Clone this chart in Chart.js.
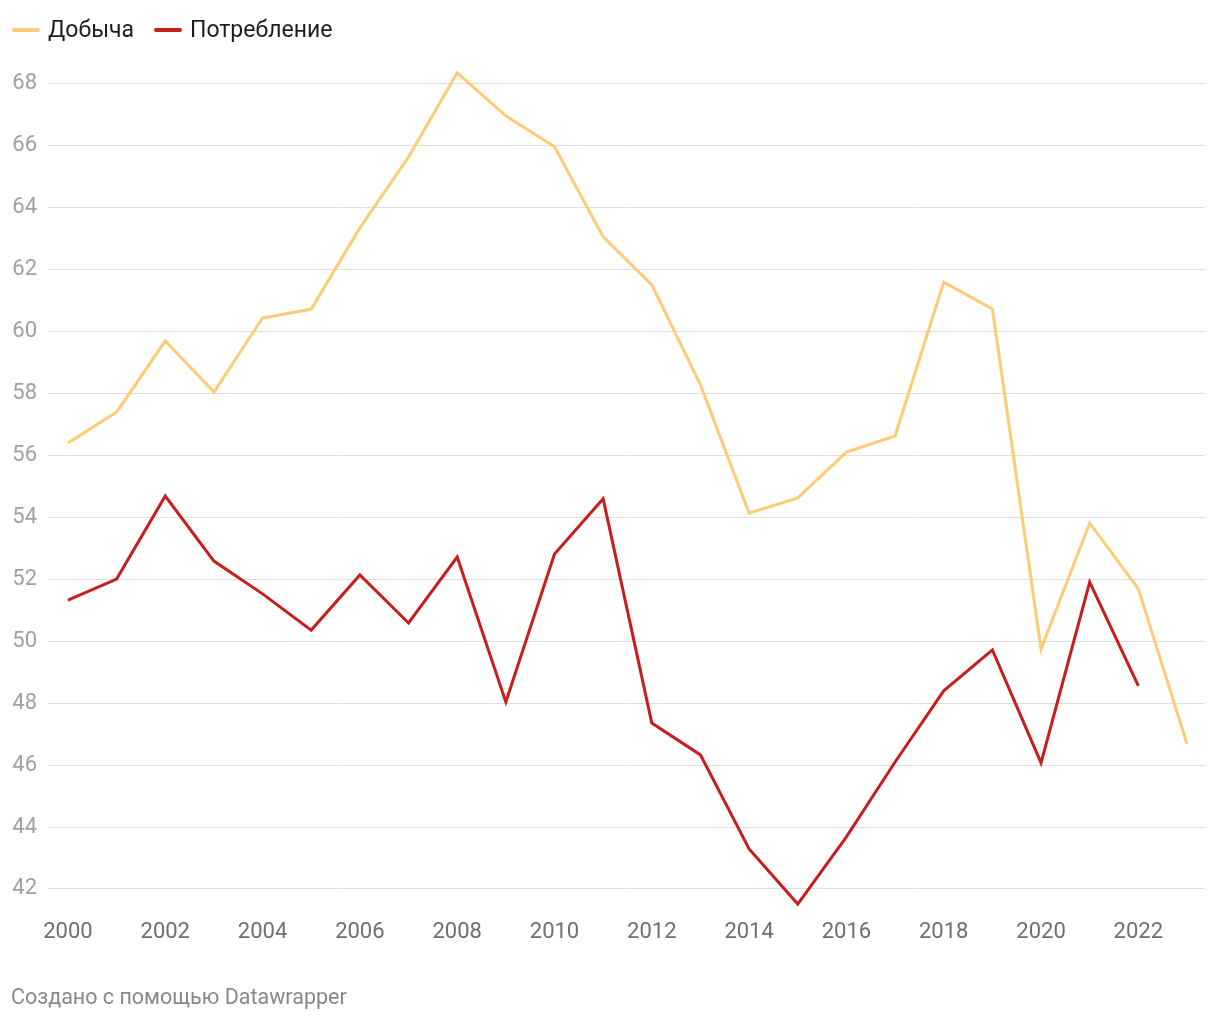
<!DOCTYPE html>
<html>
<head>
<meta charset="utf-8">
<script src="https://cdn.jsdelivr.net/npm/chart.js@4.4.1/dist/chart.umd.min.js"></script>
<style>
  body { margin: 0; background: #fff; font-family: Roboto, sans-serif; }
  #wrap { position: relative; width: 1220px; height: 1020px; }
  #chart { position: absolute; left: 0; top: 0; }
  .legend { position: absolute; top: 16px; left: 12px; display: flex; font-size: 23px; color: #1d1d1d; }
  .legend span { display: flex; align-items: center; margin-right: 20px; }
  .legend i { display: inline-block; width: 28px; height: 4px; border-radius: 2px; margin-right: 8px; }
  .credit { position: absolute; left: 11px; top: 984px; font-size: 21.5px; color: #888; }
</style>
</head>
<body>
<div id="wrap">
  <canvas id="chart" width="1220" height="1020"></canvas>
  <div class="legend">
    <span><i style="background:#fdca76"></i>Добыча</span>
    <span><i style="background:#c71e1d"></i>Потребление</span>
  </div>
  <div class="credit">Создано с помощью Datawrapper</div>
</div>
<script>
// Data
const years = [2000, 2001, 2002, 2003, 2004, 2005, 2006, 2007, 2008, 2009, 2010, 2011,
               2012, 2013, 2014, 2015, 2016, 2017, 2018, 2019, 2020, 2021, 2022, 2023];
const production = [56.4, 57.4, 59.7, 58.05, 60.44, 60.73, 63.35, 65.64, 68.36, 66.97, 65.97, 63.06,
                    61.51, 58.28, 54.14, 54.63, 56.11, 56.63, 61.6, 60.73, 49.75, 53.82, 51.69, 46.68];
const consumption = [51.33, 52.01, 54.69, 52.59, 51.53, 50.36, 52.14, 50.59, 52.72, 48.04, 52.82, 54.6,
                     47.36, 46.33, 43.29, 41.51, 43.68, 46.1, 48.4, 49.72, 46.07, 51.91, 48.56, null];
const xTicks = [2000, 2002, 2004, 2006, 2008, 2010, 2012, 2014, 2016, 2018, 2020, 2022];
const yTicks = [42, 44, 46, 48, 50, 52, 54, 56, 58, 60, 62, 64, 66, 68];

const toPoints = vals => years.map((y, i) => ({ x: y, y: vals[i] }));

const ctx = document.getElementById('chart').getContext('2d');
new Chart(ctx, {
  type: 'line',
  data: {
    datasets: [
      { label: 'Добыча', data: toPoints(production), borderColor: '#fdca76', borderWidth: 3,
        pointRadius: 0, tension: 0, clip: false },
      { label: 'Потребление', data: toPoints(consumption), borderColor: '#c71e1d', borderWidth: 3,
        pointRadius: 0, tension: 0, clip: false }
    ]
  },
  options: {
    responsive: false,
    animation: false,
    layout: { padding: { top: 70, right: 15, bottom: 60, left: 0 } },
    plugins: { legend: { display: false }, tooltip: { enabled: false } },
    scales: {
      x: {
        type: 'linear',
        min: 1999.59,
        max: 2023.37,
        afterBuildTicks: axis => { axis.ticks = xTicks.map(v => ({ value: v })); },
        afterFit: axis => { axis.height = 50; },
        grid: { display: false },
        border: { display: false },
        ticks: { color: '#6f6f6f', font: { family: 'Roboto', size: 22 }, padding: 1,
                 maxRotation: 0, autoSkip: false, callback: v => String(v) }
      },
      y: {
        min: 41.32,
        max: 68.45,
        afterBuildTicks: axis => { axis.ticks = yTicks.map(v => ({ value: v })); },
        afterFit: axis => { axis.width = 48; },
        grid: { color: '#dedede', lineWidth: 1, drawTicks: false },
        border: { display: false },
        ticks: { color: '#a0a0a0', font: { family: 'Roboto', size: 22 }, padding: 11 }
      }
    }
  }
});
</script>
</body>
</html>
